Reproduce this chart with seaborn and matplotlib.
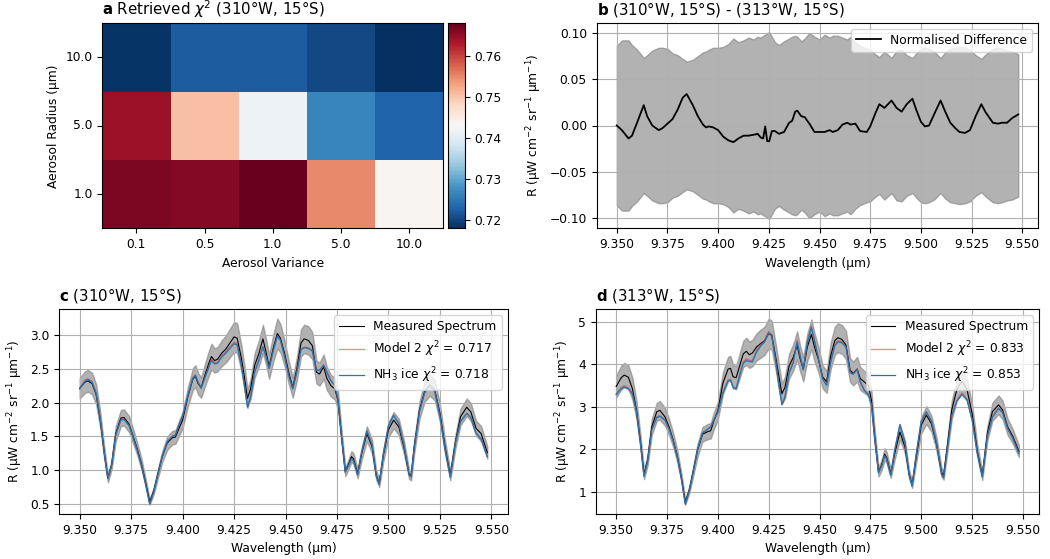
import numpy as np
import pandas as pd
import matplotlib
matplotlib.use("Agg")
import matplotlib.pyplot as plt
import seaborn as sns

# ---------------- data ----------------
variance_labels = ["0.1", "0.5", "1.0", "5.0", "10.0"]
radius_labels = ["10.0", "5.0", "1.0"]
chi2_r10 = [0.7185, 0.7222, 0.7222, 0.7205, 0.7180]
chi2_r5 = [0.7645, 0.7505, 0.7415, 0.7265, 0.7230]
chi2_r1 = [0.7665, 0.7660, 0.7680, 0.7550, 0.7435]

wavelength = [
    9.3500, 9.3525, 9.3540, 9.3560, 9.3580, 9.3600, 9.3620, 9.3637, 9.3655, 9.3675,
    9.3700, 9.3715, 9.3740, 9.3760, 9.3780, 9.3800, 9.3820, 9.3840, 9.3860, 9.3880,
    9.3900, 9.3925, 9.3950, 9.3965, 9.3980, 9.4000, 9.4025, 9.4050, 9.4062, 9.4075,
    9.4090, 9.4110, 9.4125, 9.4140, 9.4155, 9.4170, 9.4190, 9.4210, 9.4230, 9.4250,
    9.4265, 9.4285, 9.4300, 9.4315, 9.4330, 9.4350, 9.4370, 9.4390, 9.4405, 9.4420,
    9.4440, 9.4460, 9.4475, 9.4495, 9.4515, 9.4535, 9.4555, 9.4575, 9.4590, 9.4610,
    9.4630, 9.4650, 9.4665, 9.4685, 9.4700, 9.4720, 9.4740, 9.4755, 9.4770, 9.4790,
    9.4805, 9.4820, 9.4830, 9.4850, 9.4870, 9.4895, 9.4920, 9.4940, 9.4955, 9.4975,
    9.5000, 9.5025, 9.5050, 9.5075, 9.5100, 9.5110, 9.5125, 9.5150, 9.5175, 9.5200,
    9.5225, 9.5250, 9.5275, 9.5300, 9.5325, 9.5350, 9.5380, 9.5400, 9.5425, 9.5450,
    9.5480]

# panel c (310W, 15S)
meas_c = [
    2.21, 2.30, 2.32, 2.28, 2.12, 1.74, 1.24, 0.88, 1.08, 1.54,
    1.77, 1.78, 1.68, 1.50, 1.31, 1.09, 0.82, 0.53, 0.70, 0.95,
    1.19, 1.40, 1.48, 1.49, 1.60, 1.74, 2.08, 2.35, 2.39, 2.28,
    2.22, 2.42, 2.56, 2.68, 2.62, 2.64, 2.73, 2.79, 2.88, 2.97,
    2.95, 2.66, 2.38, 2.06, 2.20, 2.55, 2.72, 2.94, 2.75, 2.53,
    2.80, 3.02, 2.95, 2.73, 2.45, 2.22, 2.50, 2.88, 2.94, 2.92,
    2.84, 2.45, 2.42, 2.53, 2.36, 2.25, 2.20, 2.02, 1.55, 0.98,
    1.08, 1.20, 1.17, 0.95, 1.25, 1.54, 1.35, 0.93, 0.81, 1.22,
    1.60, 1.74, 1.64, 1.34, 0.94, 0.92, 1.35, 1.88, 2.16, 2.26,
    2.18, 1.84, 1.34, 0.92, 1.42, 1.79, 1.93, 1.86, 1.62, 1.54,
    1.26]
err_c = [
    0.15, 0.16, 0.16, 0.16, 0.15, 0.12, 0.09, 0.06, 0.07, 0.11,
    0.12, 0.12, 0.12, 0.11, 0.09, 0.08, 0.06, 0.04, 0.05, 0.07,
    0.08, 0.10, 0.10, 0.10, 0.11, 0.12, 0.14, 0.16, 0.16, 0.16,
    0.15, 0.17, 0.18, 0.19, 0.18, 0.18, 0.19, 0.20, 0.21, 0.22,
    0.22, 0.19, 0.17, 0.14, 0.15, 0.18, 0.19, 0.21, 0.19, 0.18,
    0.20, 0.22, 0.21, 0.19, 0.17, 0.15, 0.17, 0.20, 0.21, 0.21,
    0.20, 0.17, 0.17, 0.18, 0.17, 0.16, 0.16, 0.14, 0.11, 0.07,
    0.07, 0.08, 0.08, 0.07, 0.09, 0.11, 0.10, 0.07, 0.06, 0.09,
    0.11, 0.12, 0.12, 0.10, 0.07, 0.07, 0.10, 0.13, 0.15, 0.16,
    0.15, 0.13, 0.10, 0.07, 0.10, 0.12, 0.13, 0.13, 0.11, 0.11,
    0.09]
nh3_c = [
    2.20, 2.31, 2.34, 2.30, 2.14, 1.76, 1.24, 0.88, 1.07, 1.52,
    1.74, 1.75, 1.66, 1.48, 1.29, 1.07, 0.80, 0.50, 0.68, 0.94,
    1.19, 1.42, 1.50, 1.52, 1.65, 1.80, 2.10, 2.36, 2.40, 2.30,
    2.21, 2.38, 2.50, 2.62, 2.57, 2.58, 2.67, 2.73, 2.80, 2.87,
    2.85, 2.55, 2.25, 1.93, 2.08, 2.45, 2.62, 2.82, 2.68, 2.50,
    2.76, 2.98, 2.92, 2.68, 2.40, 2.20, 2.45, 2.78, 2.81, 2.80,
    2.76, 2.48, 2.47, 2.55, 2.45, 2.32, 2.25, 2.04, 1.56, 0.97,
    1.06, 1.17, 1.14, 0.93, 1.27, 1.58, 1.38, 0.92, 0.79, 1.24,
    1.66, 1.81, 1.69, 1.37, 0.93, 0.90, 1.33, 1.86, 2.14, 2.24,
    2.16, 1.80, 1.30, 0.90, 1.40, 1.72, 1.84, 1.78, 1.55, 1.46,
    1.20]
model_c = [
    2.21, 2.33, 2.35, 2.31, 2.14, 1.76, 1.24, 0.88, 1.07, 1.52,
    1.75, 1.76, 1.66, 1.48, 1.29, 1.07, 0.80, 0.50, 0.68, 0.94,
    1.19, 1.42, 1.50, 1.52, 1.65, 1.80, 2.10, 2.37, 2.41, 2.30,
    2.21, 2.39, 2.52, 2.64, 2.59, 2.60, 2.69, 2.75, 2.82, 2.89,
    2.87, 2.56, 2.26, 1.94, 2.09, 2.46, 2.63, 2.83, 2.69, 2.51,
    2.77, 2.99, 2.93, 2.69, 2.41, 2.21, 2.46, 2.79, 2.82, 2.81,
    2.77, 2.49, 2.48, 2.56, 2.46, 2.33, 2.26, 2.04, 1.56, 0.97,
    1.06, 1.17, 1.14, 0.93, 1.27, 1.58, 1.38, 0.92, 0.79, 1.24,
    1.66, 1.81, 1.69, 1.37, 0.93, 0.90, 1.33, 1.86, 2.14, 2.25,
    2.16, 1.80, 1.30, 0.90, 1.40, 1.72, 1.84, 1.78, 1.55, 1.46,
    1.20]

# panel d (313W, 15S)
meas_d = [
    3.47, 3.68, 3.74, 3.69, 3.42, 2.92, 2.15, 1.40, 1.75, 2.52,
    2.88, 2.91, 2.76, 2.52, 2.22, 1.85, 1.35, 0.75, 1.05, 1.50,
    1.97, 2.35, 2.41, 2.43, 2.66, 2.90, 3.55, 3.88, 3.90, 3.70,
    3.68, 4.00, 4.24, 4.30, 4.22, 4.26, 4.40, 4.48, 4.55, 4.72,
    4.68, 4.15, 3.72, 3.30, 3.45, 3.95, 4.15, 4.44, 4.12, 3.88,
    4.40, 4.70, 4.40, 4.10, 3.70, 3.58, 4.20, 4.55, 4.62, 4.58,
    4.45, 3.86, 3.78, 3.88, 3.66, 3.58, 3.50, 3.15, 2.35, 1.46,
    1.62, 1.88, 1.80, 1.42, 1.90, 2.40, 2.05, 1.42, 1.16, 1.80,
    2.56, 2.80, 2.60, 2.12, 1.45, 1.38, 1.95, 2.92, 3.40, 3.60,
    3.40, 2.84, 1.97, 1.37, 2.37, 2.88, 3.04, 2.92, 2.52, 2.30,
    1.95]
err_d = [
    0.26, 0.28, 0.29, 0.28, 0.26, 0.22, 0.16, 0.11, 0.13, 0.19,
    0.21, 0.22, 0.21, 0.19, 0.17, 0.14, 0.10, 0.06, 0.08, 0.11,
    0.15, 0.17, 0.18, 0.18, 0.20, 0.21, 0.26, 0.29, 0.29, 0.28,
    0.27, 0.30, 0.31, 0.32, 0.31, 0.31, 0.32, 0.33, 0.33, 0.35,
    0.34, 0.31, 0.28, 0.24, 0.26, 0.29, 0.31, 0.33, 0.30, 0.29,
    0.32, 0.35, 0.33, 0.30, 0.27, 0.26, 0.31, 0.33, 0.34, 0.34,
    0.33, 0.28, 0.28, 0.29, 0.27, 0.26, 0.26, 0.23, 0.17, 0.11,
    0.12, 0.14, 0.13, 0.10, 0.14, 0.18, 0.15, 0.10, 0.08, 0.13,
    0.19, 0.21, 0.19, 0.16, 0.11, 0.10, 0.14, 0.22, 0.25, 0.27,
    0.25, 0.21, 0.15, 0.10, 0.17, 0.21, 0.22, 0.22, 0.19, 0.17,
    0.14]
nh3_d = [
    3.28, 3.42, 3.46, 3.42, 3.30, 2.88, 2.12, 1.36, 1.72, 2.45,
    2.74, 2.77, 2.68, 2.47, 2.20, 1.83, 1.33, 0.70, 1.02, 1.50,
    1.99, 2.38, 2.47, 2.52, 2.68, 2.86, 3.32, 3.60, 3.62, 3.45,
    3.42, 3.78, 4.02, 4.08, 4.06, 4.05, 4.28, 4.42, 4.52, 4.73,
    4.66, 4.05, 3.50, 3.04, 3.22, 3.78, 4.02, 4.52, 4.18, 3.86,
    4.50, 4.86, 4.55, 4.12, 3.65, 3.50, 4.05, 4.43, 4.52, 4.50,
    4.40, 3.80, 3.76, 3.87, 3.58, 3.38, 3.28, 3.05, 2.30, 1.44,
    1.60, 1.84, 1.76, 1.38, 1.98, 2.57, 2.15, 1.40, 1.13, 1.86,
    2.65, 2.87, 2.66, 2.15, 1.40, 1.33, 1.88, 2.78, 3.12, 3.28,
    3.15, 2.70, 1.92, 1.35, 2.30, 2.75, 2.95, 2.86, 2.48, 2.25,
    1.90]
model_d = [
    3.30, 3.45, 3.49, 3.44, 3.31, 2.88, 2.12, 1.36, 1.72, 2.46,
    2.76, 2.79, 2.69, 2.47, 2.20, 1.83, 1.33, 0.70, 1.02, 1.50,
    1.99, 2.38, 2.47, 2.52, 2.68, 2.87, 3.34, 3.62, 3.64, 3.46,
    3.43, 3.80, 4.05, 4.12, 4.09, 4.08, 4.32, 4.46, 4.56, 4.77,
    4.69, 4.07, 3.51, 3.05, 3.23, 3.80, 4.05, 4.56, 4.20, 3.87,
    4.53, 4.89, 4.57, 4.13, 3.66, 3.51, 4.07, 4.46, 4.55, 4.53,
    4.42, 3.81, 3.77, 3.89, 3.59, 3.39, 3.29, 3.05, 2.30, 1.44,
    1.60, 1.85, 1.77, 1.38, 1.99, 2.58, 2.16, 1.40, 1.13, 1.87,
    2.66, 2.88, 2.67, 2.15, 1.40, 1.33, 1.89, 2.80, 3.15, 3.31,
    3.17, 2.71, 1.92, 1.35, 2.31, 2.76, 2.97, 2.88, 2.49, 2.26,
    1.91]

# panel b (normalised difference)
wavelength_b = [
    9.3500, 9.3525, 9.3558, 9.3575, 9.3600, 9.3633, 9.3650, 9.3675, 9.3707, 9.3725,
    9.3750, 9.3775, 9.3800, 9.3825, 9.3845, 9.3875, 9.3900, 9.3925, 9.3940, 9.3955,
    9.3975, 9.4000, 9.4025, 9.4050, 9.4075, 9.4100, 9.4125, 9.4150, 9.4175, 9.4195,
    9.4210, 9.4222, 9.4232, 9.4242, 9.4252, 9.4265, 9.4280, 9.4300, 9.4325, 9.4350,
    9.4365, 9.4380, 9.4390, 9.4410, 9.4427, 9.4450, 9.4475, 9.4500, 9.4525, 9.4550,
    9.4565, 9.4590, 9.4613, 9.4637, 9.4653, 9.4677, 9.4700, 9.4733, 9.4750, 9.4775,
    9.4795, 9.4820, 9.4855, 9.4880, 9.4905, 9.4930, 9.4958, 9.4977, 9.5000, 9.5020,
    9.5040, 9.5065, 9.5097, 9.5120, 9.5145, 9.5170, 9.5190, 9.5218, 9.5242, 9.5270,
    9.5298, 9.5320, 9.5355, 9.5380, 9.5400, 9.5425, 9.5450, 9.5480]
diff_b = [
    0.000, -0.005, -0.014, -0.011, 0.003, 0.022, 0.010, 0.000, -0.005, -0.003,
    0.002, 0.007, 0.017, 0.030, 0.034, 0.022, 0.010, 0.001, -0.002, -0.001,
    -0.002, -0.005, -0.012, -0.016, -0.018, -0.014, -0.011, -0.011, -0.010, -0.009,
    -0.013, -0.014, -0.001, -0.017, -0.017, -0.006, -0.006, -0.009, -0.007, 0.003,
    0.005, 0.015, 0.016, 0.010, 0.009, 0.002, -0.007, -0.007, -0.007, -0.005,
    -0.007, -0.005, 0.001, 0.003, 0.001, 0.002, -0.006, -0.007, -0.001, 0.013,
    0.023, 0.019, 0.027, 0.019, 0.015, 0.023, 0.029, 0.017, 0.004, -0.001,
    0.000, 0.012, 0.027, 0.015, 0.003, -0.003, -0.007, -0.008, -0.005, 0.010,
    0.023, 0.014, 0.003, 0.002, 0.003, 0.003, 0.008, 0.012]
err_b = [
    0.086, 0.092, 0.092, 0.087, 0.082, 0.073, 0.076, 0.081, 0.084, 0.084,
    0.083, 0.078, 0.076, 0.072, 0.069, 0.071, 0.075, 0.079, 0.080, 0.082,
    0.084, 0.084, 0.085, 0.088, 0.094, 0.090, 0.092, 0.095, 0.093, 0.096,
    0.095, 0.097, 0.098, 0.100, 0.101, 0.096, 0.090, 0.087, 0.091, 0.094,
    0.096, 0.097, 0.096, 0.091, 0.094, 0.100, 0.096, 0.093, 0.098, 0.095,
    0.097, 0.097, 0.095, 0.093, 0.096, 0.090, 0.086, 0.083, 0.082, 0.077,
    0.074, 0.080, 0.073, 0.081, 0.082, 0.076, 0.073, 0.078, 0.083, 0.084,
    0.083, 0.080, 0.073, 0.079, 0.083, 0.084, 0.085, 0.084, 0.082, 0.076,
    0.072, 0.077, 0.083, 0.084, 0.083, 0.081, 0.080, 0.077]

# ---------------- style ----------------
plt.rcParams.update({
    "font.size": 8.8,
    "axes.titlesize": 10.8,
    "axes.linewidth": 0.8,
})
plt.rcParams["font.family"] = ["DejaVu Sans"]

W, H = 1050, 559
fig = plt.figure(figsize=(W / 100, H / 100), dpi=100)

def box(l, t, r, b):
    return [l / W, 1 - b / H, (r - l) / W, (b - t) / H]

ax_a = fig.add_axes(box(102.3, 23.3, 443.3, 228.3))
cax = fig.add_axes(box(447.7, 23.3, 464.7, 228.3))
ax_b = fig.add_axes(box(596.7, 22.7, 1038.3, 228.3))
ax_c = fig.add_axes(box(59.3, 309.3, 507.7, 514.0))
ax_d = fig.add_axes(box(596.0, 309.3, 1039.0, 514.0))

ylab = r"R ($\mathregular{\mu}$W cm$^{-2}$ sr$^{-1}$ $\mathregular{\mu}$m$^{-1}$)"
ylab = "R (\u03bcW cm$^{-2}$ sr$^{-1}$ \u03bcm$^{-1}$)"
xlab = "Wavelength (\u03bcm)"

# ---------------- panel a ----------------
chi_df = pd.DataFrame([chi2_r10, chi2_r5, chi2_r1], index=radius_labels, columns=variance_labels)
sns.heatmap(chi_df, ax=ax_a, cbar_ax=cax, cmap="RdBu_r", vmin=0.718, vmax=0.768,
            cbar_kws={"ticks": [0.72, 0.73, 0.74, 0.75, 0.76]})
for sp in ax_a.spines.values():
    sp.set_visible(True)
    sp.set_linewidth(0.8)
cax.collections[0].colorbar.outline.set_linewidth(0.8) if hasattr(cax.collections[0], "colorbar") and cax.collections[0].colorbar is not None else None
for sp in cax.spines.values():
    sp.set_visible(True)
ax_a.tick_params(axis="both", length=3.5)
ax_a.set_yticklabels(radius_labels, rotation=0)
ax_a.set_xticklabels(variance_labels, rotation=0)
ax_a.set_xlabel("Aerosol Variance")
ax_a.set_ylabel("Aerosol Radius (\u03bcm)")
ax_a.set_title(r"$\bf{a}$ Retrieved $\chi^2$ (310°W, 15°S)", loc="left")

# ---------------- panel b ----------------
wb = np.array(wavelength_b)
eb = np.array(err_b)
ax_b.fill_between(wb, -eb, eb, color="gray", alpha=0.6, linewidth=1)
sns.lineplot(x=wavelength_b, y=diff_b, ax=ax_b, color="black", linewidth=1.3,
             estimator=None, sort=False, label="Normalised Difference")
ax_b.grid(True, color="#b0b0b0", linewidth=0.8)
ax_b.set_xticks([9.350, 9.375, 9.400, 9.425, 9.450, 9.475, 9.500, 9.525, 9.550])
ax_b.set_xticklabels(["9.350", "9.375", "9.400", "9.425", "9.450", "9.475", "9.500", "9.525", "9.550"])
ax_b.set_yticks([-0.10, -0.05, 0.0, 0.05, 0.10])
ax_b.set_yticklabels(["\u22120.10", "\u22120.05", "0.00", "0.05", "0.10"])
ax_b.set_xlabel(xlab)
ax_b.set_ylabel(ylab)
ax_b.set_title(r"$\bf{b}$ (310°W, 15°S) - (313°W, 15°S)", loc="left")
ax_b.legend(loc="upper right", fontsize=8.8)

# ---------------- panels c, d ----------------
def spectrum(ax, meas, err, model, nh3, chi_model, chi_nh3, title):
    w = np.array(wavelength)
    m = np.array(meas)
    e = np.array(err)
    ax.fill_between(w, m - e, m + e, color="gray", alpha=0.6, linewidth=1)
    sns.lineplot(x=wavelength, y=meas, ax=ax, color="black", linewidth=0.8,
                 estimator=None, sort=False, label="Measured Spectrum")
    sns.lineplot(x=wavelength, y=model, ax=ax, color="tab:red", alpha=0.5, linewidth=1.0,
                 estimator=None, sort=False, label=r"Model 2 $\chi^2$ = " + chi_model)
    sns.lineplot(x=wavelength, y=nh3, ax=ax, color="tab:blue", linewidth=0.9,
                 estimator=None, sort=False, label=r"NH$_3$ ice $\chi^2$ = " + chi_nh3)
    ax.grid(True, color="#b0b0b0", linewidth=0.8)
    ax.set_xticks([9.350, 9.375, 9.400, 9.425, 9.450, 9.475, 9.500, 9.525, 9.550])
    ax.set_xticklabels(["9.350", "9.375", "9.400", "9.425", "9.450", "9.475", "9.500", "9.525", "9.550"])
    ax.set_xlabel(xlab)
    ax.set_ylabel(ylab)
    ax.set_title(title, loc="left")
    ax.legend(loc="upper right", fontsize=8.8)

spectrum(ax_c, meas_c, err_c, model_c, nh3_c, "0.717", "0.718", r"$\bf{c}$ (310°W, 15°S)")
spectrum(ax_d, meas_d, err_d, model_d, nh3_d, "0.833", "0.853", r"$\bf{d}$ (313°W, 15°S)")

fig.savefig("out.png", dpi=100)
